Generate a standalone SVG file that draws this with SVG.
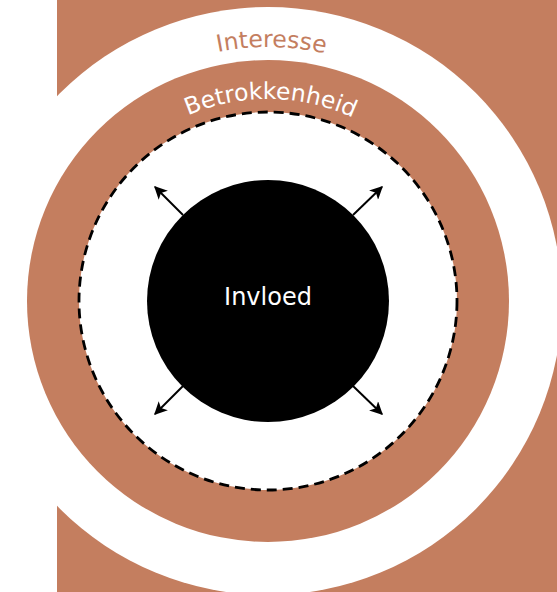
<svg xmlns="http://www.w3.org/2000/svg" width="557" height="592" viewBox="0 0 557 592">
<style>
.brown{fill:#c47e5f}
.lbl{font-family:"DejaVu Sans","Verdana",sans-serif;font-size:23.5px}
.arr{stroke:#000;stroke-width:2;fill:none}
</style>
<defs>
<marker id="ah" viewBox="0 0 10 10" refX="9" refY="5" markerWidth="15" markerHeight="13" markerUnits="userSpaceOnUse" orient="auto">
<path d="M0,0 L10,5 L0,10 L2.5,5 Z" fill="#000"/>
</marker>
<path id="pInt" d="M14,301 A254,254 0 0 1 522,301"/>
<path id="pBet" d="M66,301 A202,202 0 0 1 470,301"/>
</defs>
<rect id="bg" class="brown" x="57" y="0" width="500" height="592"/>
<g id="interesse">
<circle cx="268" cy="301" r="294" fill="#fff"/>
<text class="lbl" fill="#c47e5f" text-anchor="middle" transform="rotate(0.8 268 301)"><textPath href="#pInt" startOffset="50%">Interesse</textPath></text>
</g>
<g id="betrokkenheid">
<circle class="brown" cx="268" cy="301" r="241"/>
<circle cx="268" cy="301" r="189" fill="#fff" stroke="#000" stroke-width="2.8" stroke-dasharray="10,6"/>
<text class="lbl" fill="#fff" text-anchor="middle" transform="rotate(0.8 268 301)"><textPath href="#pBet" startOffset="50%">Betrokkenheid</textPath></text>
</g>
<g id="invloed">
<circle cx="268" cy="301" r="121" fill="#000"/>
<text class="lbl" fill="#fff" x="268" y="305" text-anchor="middle" style="font-size:24px">Invloed</text>
</g>
<g id="connectors">
<line class="arr" x1="183" y1="215" x2="155" y2="187" marker-end="url(#ah)"/>
<line class="arr" x1="353" y1="215" x2="382" y2="187" marker-end="url(#ah)"/>
<line class="arr" x1="183" y1="386" x2="155" y2="414" marker-end="url(#ah)"/>
<line class="arr" x1="353" y1="386" x2="382" y2="414" marker-end="url(#ah)"/>
</g>
</svg>
